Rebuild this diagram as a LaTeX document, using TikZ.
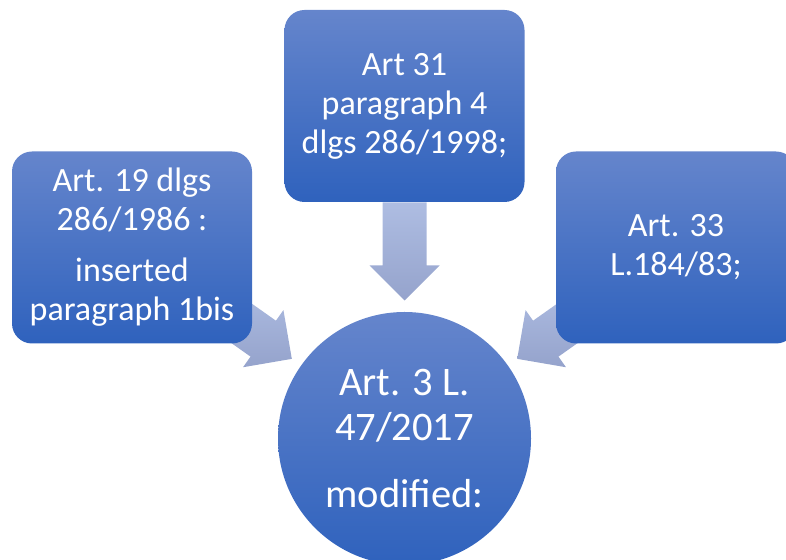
\documentclass[tikz,border=0pt]{standalone}
\usepackage{fontspec}
\setmainfont{Carlito}
\usetikzlibrary{calc}
\definecolor{boxtop}{RGB}{101,133,204}
\definecolor{boxbot}{RGB}{47,98,189}
\definecolor{arrtop}{RGB}{174,189,226}
\definecolor{arrbot}{RGB}{149,163,204}
\begin{document}
\begin{tikzpicture}[x=1pt, y=1pt,
    main node/.style={draw=none, text=white, top color=boxtop, bottom color=boxbot, align=center, inner sep=0pt},
    law box/.style={main node, rectangle, rounded corners=20pt, minimum width=240pt, minimum height=192pt, font=\fontsize{34}{39}\selectfont},
    law circle/.style={main node, circle, minimum size=253pt, font=\fontsize{40.5}{45}\selectfont},
    fat arrow/.style={draw=none, top color=arrtop, bottom color=arrbot}]
    \useasboundingbox (0,0) rectangle (786,559);
    \clip (0,0) rectangle (786,559);

    \node[law circle] at (404.5,120.5) (art3) {Art. 3 L.\\47/2017\\[22pt]modified:};

    \foreach \a in {90, 144.75, 35.25}
        \shade[fat arrow] ($(art3.center)+(\a:138)$)
            -- ($(art3.center)+(\a:173)+(\a+90:35)$) -- ($(art3.center)+(\a:173)+(\a+90:22)$)
            -- ($(art3.center)+(\a:236)+(\a+90:22)$) -- ($(art3.center)+(\a:236)+(\a-90:22)$)
            -- ($(art3.center)+(\a:173)+(\a-90:22)$) -- ($(art3.center)+(\a:173)+(\a-90:35)$) -- cycle;

    \node[law box] at (404.5,453) (art31) {Art 31\\paragraph 4\\dlgs 286/1998;};
    \node[law box] at (132,311.5) (art19) {Art. 19 dlgs\\286/1986 :\\[12pt]inserted\\paragraph 1bis};
    \node[law box] at (676,311.5) (art33) {Art. 33\\L.184/83;};
\end{tikzpicture}
\end{document}
